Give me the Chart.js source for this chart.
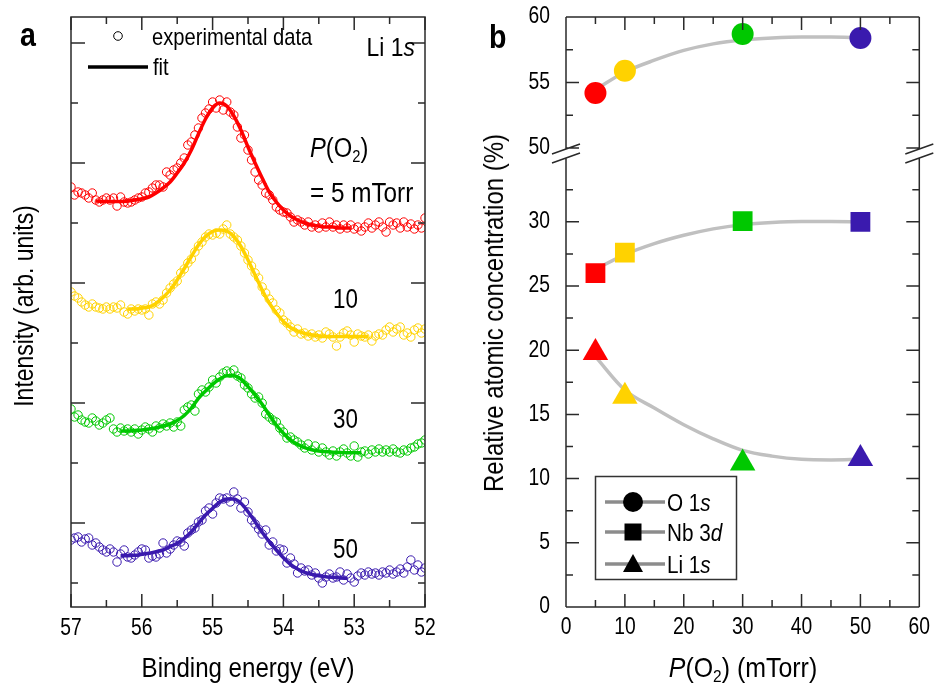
<!DOCTYPE html>
<html>
<head>
<meta charset="utf-8">
<script src="https://cdn.jsdelivr.net/npm/chart.js@4.4.1/dist/chart.umd.min.js"></script>
<style>
  body { margin: 0; background: #fff; width: 934px; height: 691px; overflow: hidden; position: relative;
         font-family: "Liberation Sans", Arial, sans-serif; color: #000; }
  canvas { position: absolute; top: 0; }
  #chartA { left: 0; }
  #chartB { left: 470px; }
  .lbl { position: absolute; white-space: nowrap; line-height: 1; transform-origin: left center; }
  .panel { font-weight: bold; font-size: 34px; transform: scaleX(0.84); }
  sub { font-size: 0.62em; vertical-align: -0.3em; line-height: 0; }
</style>
</head>
<body>
<canvas id="chartA" width="470" height="691"></canvas>
<canvas id="chartB" width="464" height="691"></canvas>

<div class="lbl panel" style="left:20px; top:17px;">a</div>
<div class="lbl panel" style="left:489px; top:19px;">b</div>

<div class="lbl" style="left:152px; top:25px; font-size:24px; transform:scaleX(0.84);">experimental data</div>
<div class="lbl" style="left:153px; top:55px; font-size:24px; transform:scaleX(0.84);">fit</div>
<div class="lbl" style="right:519px; top:34px; font-size:26px; transform:scaleX(0.88); transform-origin:right center;">Li 1<i>s</i></div>
<div class="lbl" style="left:310px; top:135px; font-size:27px; transform:scaleX(0.88);"><i>P</i>(O<sub>2</sub>)</div>
<div class="lbl" style="left:310px; top:180px; font-size:27px; transform:scaleX(0.9);">= 5 mTorr</div>
<div class="lbl" style="left:333px; top:285px; font-size:28px; transform:scaleX(0.8);">10</div>
<div class="lbl" style="left:333px; top:405px; font-size:28px; transform:scaleX(0.8);">30</div>
<div class="lbl" style="left:333px; top:535px; font-size:28px; transform:scaleX(0.8);">50</div>

<div class="lbl" style="left:24px; top:306px; font-size:27px; transform-origin:center; transform:translate(-50%,-50%) rotate(-90deg) scaleX(0.85);">Intensity (arb. units)</div>
<div class="lbl" style="left:248px; top:654px; font-size:28px; transform-origin:center; transform:translateX(-50%) scaleX(0.86);">Binding energy (eV)</div>
<div class="lbl" style="left:494px; top:313px; font-size:28px; transform-origin:center; transform:translate(-50%,-50%) rotate(-90deg) scaleX(0.855);">Relative atomic concentration (%)</div>
<div class="lbl" style="left:743px; top:654px; font-size:28px; transform-origin:center; transform:translateX(-50%) scaleX(0.89);"><i>P</i>(O<sub>2</sub>) (mTorr)</div>

<script>
const FONT = '"Liberation Sans", Arial, sans-serif';

// ---------- panel a: Li 1s spectra (offset, arb. units) ----------
const energy = [
  57, 56.95, 56.9, 56.85, 56.8, 56.75, 56.7, 56.65, 56.6, 56.55,
  56.5, 56.45, 56.4, 56.35, 56.3, 56.25, 56.2, 56.15, 56.1, 56.05,
  56, 55.95, 55.9, 55.85, 55.8, 55.75, 55.7, 55.65, 55.6, 55.55,
  55.5, 55.45, 55.4, 55.35, 55.3, 55.25, 55.2, 55.15, 55.1, 55.05,
  55, 54.95, 54.9, 54.85, 54.8, 54.75, 54.7, 54.65, 54.6, 54.55,
  54.5, 54.45, 54.4, 54.35, 54.3, 54.25, 54.2, 54.15, 54.1, 54.05,
  54, 53.95, 53.9, 53.85, 53.8, 53.75, 53.7, 53.65, 53.6, 53.55,
  53.5, 53.45, 53.4, 53.35, 53.3, 53.25, 53.2, 53.15, 53.1, 53.05,
  53, 52.95, 52.9, 52.85, 52.8, 52.75, 52.7, 52.65, 52.6, 52.55,
  52.5, 52.45, 52.4, 52.35, 52.3, 52.25, 52.2, 52.15, 52.1, 52.05,
  52
];

const int5 = [
  396, 388, 391, 390, 388, 385, 390, 383, 381, 383,
  385, 383, 385, 377, 386, 381, 380, 381, 383, 385,
  386, 390, 391, 395, 398, 398, 396, 411, 408, 413,
  415, 420, 425, 438, 441, 448, 455, 465, 470, 474,
  481, 475, 483, 473, 481, 471, 468, 456, 445, 448,
  433, 423, 411, 403, 398, 390, 388, 383, 376, 373,
  371, 370, 366, 361, 363, 361, 358, 361, 356, 358,
  355, 360, 356, 361, 356, 358, 354, 358, 355, 358,
  354, 356, 352, 356, 360, 355, 358, 361, 356, 351,
  361, 358, 360, 355, 361, 356, 359, 354, 358, 355,
  365
];
const int10 = [
  291, 287, 285, 281, 278, 276, 279, 276, 275, 274,
  276, 274, 276, 275, 278, 271, 269, 274, 272, 274,
  273, 274, 268, 279, 281, 279, 283, 290, 295, 299,
  302, 310, 314, 320, 324, 331, 337, 341, 346, 349,
  348, 350, 349, 354, 358, 349, 346, 343, 337, 330,
  323, 317, 310, 305, 296, 290, 284, 280, 273, 270,
  263, 260, 256, 251, 254, 249, 250, 247, 249, 246,
  248, 245, 251, 249, 246, 237, 246, 250, 252, 248,
  241, 249, 247, 246, 248, 242, 247, 249, 248, 253,
  256, 251, 254, 256, 248, 250, 246, 253, 255, 250,
  254
];
const int30 = [
  174, 166, 168, 163, 161, 160, 165, 162, 158, 160,
  163, 165, 154, 151, 155, 152, 154, 151, 154, 149,
  153, 156, 154, 151, 157, 155, 159, 157, 160, 156,
  161, 157, 173, 176, 178, 172, 189, 193, 191, 196,
  203, 200, 206, 210, 212, 210, 213, 207, 205, 198,
  195, 189, 185, 186, 180, 169, 166, 163, 161, 155,
  151, 145, 146, 143, 141, 138, 135, 139, 133, 137,
  131, 135, 131, 128, 132, 127, 131, 134, 130, 127,
  137, 126, 131, 132, 129, 133, 131, 134, 131, 133,
  131, 134, 131, 130, 133, 132, 135, 136, 139, 140,
  143
];
const int50 = [
  43, 45, 46, 41, 44, 45, 38, 40, 36, 33,
  31, 34, 31, 21, 29, 33, 26, 25, 28, 31,
  34, 33, 25, 27, 26, 29, 40, 30, 34, 38,
  42, 41, 37, 50, 53, 55, 61, 63, 72, 75,
  69, 80, 85, 84, 85, 81, 91, 84, 75, 81,
  71, 63, 59, 54, 49, 53, 38, 41, 32, 34,
  33, 20, 25, 19, 10, 15, 12, 13, 8, 10,
  5, 0, 6, 9, 5, 6, 11, 3, 9, 5,
  1, 7, 10, 8, 11, 9, 10, 8, 11, 10,
  13, 9, 11, 14, 10, 16, 23, 13, 18, 11,
  15
];

// fitted curves
const fitEnergy5 = [56.65, 56.5, 56.3, 56.1, 55.9, 55.8, 55.7, 55.6, 55.5, 55.4, 55.3, 55.2, 55.1, 55.0, 54.9,
  54.8, 54.7, 54.6, 54.5, 54.4, 54.3, 54.2, 54.1, 54.0, 53.9, 53.8, 53.7, 53.6, 53.5, 53.4, 53.3, 53.2, 53.05];
const fit5 = [382, 381.5, 381.5, 383, 386, 390, 395, 401, 410, 420, 433, 449, 464, 475, 480,
  477, 467, 453, 436, 420, 405, 391, 381, 373, 367, 363, 360, 358, 357, 356, 356, 355, 355];

const fitEnergy10 = [56.2, 56.1, 56.0, 55.9, 55.8, 55.7, 55.6, 55.5, 55.4, 55.3, 55.2, 55.1, 55.0, 54.9, 54.8,
  54.7, 54.6, 54.5, 54.4, 54.3, 54.2, 54.1, 54.0, 53.9, 53.8, 53.7, 53.6, 53.5, 53.4, 53.2, 53.0, 52.8];
const fit10 = [274, 274, 275, 276, 279.5, 285.5, 293, 303, 314.5, 326.5, 338, 346.5, 351.5, 353, 352,
  346.5, 336.5, 323, 308, 293, 280, 270, 261.5, 255.5, 252, 249.5, 248, 247, 246.5, 246.5, 246.5, 246.5];

const fitEnergy30 = [56.3, 56.2, 56.1, 56.0, 55.9, 55.8, 55.7, 55.6, 55.5, 55.4, 55.3, 55.2, 55.1, 55.0, 54.9,
  54.8, 54.7, 54.6, 54.5, 54.4, 54.3, 54.2, 54.1, 54.0, 53.9, 53.8, 53.7, 53.6, 53.5, 53.4, 53.3, 53.1, 52.9];
const fit30 = [152, 152, 152.5, 153, 154, 155.3, 157, 159, 162.5, 167.5, 175, 184.7, 192, 198.7, 204,
  207.3, 207.3, 204, 196.3, 188, 178.7, 168, 158, 149.7, 143, 138.7, 135.3, 133.3, 132, 131.3, 130.7, 130.3, 130.3];

const fitEnergy50 = [56.3, 56.2, 56.1, 56.0, 55.9, 55.8, 55.7, 55.6, 55.5, 55.4, 55.3, 55.2, 55.1, 55.0, 54.9,
  54.8, 54.7, 54.6, 54.5, 54.4, 54.3, 54.2, 54.1, 54.0, 53.9, 53.8, 53.7, 53.6, 53.5, 53.4, 53.3, 53.2, 53.1];
const fit50 = [27.3, 27.3, 27.7, 28.7, 29.7, 31.3, 33, 36.3, 39.7, 44.7, 51.3, 59.7, 68, 74.7, 80.7,
  84, 84, 79.7, 71.3, 61.3, 50.7, 41.3, 33, 25.3, 18.7, 14, 10.7, 8.7, 7.3, 6.3, 5.7, 5, 4.7];

const spectrumColors = ['#ff0000', '#ffd200', '#00c800', '#3a1aae'];

// ---------- panel b: relative atomic concentration ----------
const pressure = [5, 10, 30, 50];
const o1s = [54.2, 55.9, 58.7, 58.4];
const nb3d = [26.0, 27.6, 30.05, 30.0];
const li1s = [19.8, 16.4, 11.2, 11.55];
const pressureColors = ['#ff0000', '#ffd200', '#00c800', '#3a1aae'];

const fitPressure = [5, 10, 15, 20, 25, 30, 35, 40, 45, 50];
const o1sFit = [54.45, 55.8, 56.7, 57.45, 57.95, 58.25, 58.4, 58.47, 58.47, 58.42];
const nb3dFit = [26.3, 27.45, 28.3, 28.95, 29.45, 29.78, 29.95, 30.02, 30.02, 30.0];
const li1sFit = [19.5, 16.9, 15.5, 14.2, 13.1, 12.2, 11.75, 11.5, 11.45, 11.5];

function pts(xs, ys) {
  return xs.map((x, i) => ({ x: x, y: ys[i] }));
}

// condensed-looking tick label text
function narrowText(ctx, text, x, y, align, size, sx) {
  ctx.save();
  ctx.translate(x, y);
  ctx.scale(sx, 1);
  ctx.font = size + 'px ' + FONT;
  ctx.textAlign = align;
  ctx.textBaseline = 'middle';
  ctx.fillStyle = '#000';
  ctx.fillText(text, 0, 0);
  ctx.restore();
}

function noPad(s) {
  s.paddingLeft = 0; s.paddingRight = 0; s.paddingTop = 0; s.paddingBottom = 0;
}

// ticks drawn inward on all four sides
const frameA = {
  id: 'frameA',
  afterDatasetsDraw(chart) {
    const { ctx, chartArea: { left, right, top, bottom }, scales: { x, y } } = chart;
    ctx.save();
    ctx.strokeStyle = '#2a2a2a';
    ctx.lineWidth = 1.5;
    ctx.strokeRect(left, top, right - left, bottom - top);
    ctx.beginPath();
    for (let k = 0; k <= 10; k++) {
      const px = x.getPixelForValue(52 + k * 0.5);
      const len = k % 2 === 0 ? 13 : 7;
      ctx.moveTo(px, bottom); ctx.lineTo(px, bottom - len);
      ctx.moveTo(px, top); ctx.lineTo(px, top + len);
    }
    for (let k = 0; k <= 9; k++) {
      const py = y.getPixelForValue(k * 60);
      const len = k % 2 === 1 ? 14 : 7;
      ctx.moveTo(left, py); ctx.lineTo(left + len, py);
      ctx.moveTo(right, py); ctx.lineTo(right - len, py);
    }
    ctx.stroke();

    x.ticks.forEach(t => narrowText(ctx, t.label, x.getPixelForValue(t.value), 629, 'center', 23.5, 0.82));

    // legend symbols
    ctx.strokeStyle = '#000';
    ctx.lineWidth = 1;
    ctx.beginPath();
    ctx.arc(118, 36, 4.3, 0, Math.PI * 2);
    ctx.stroke();
    ctx.lineWidth = 3.5;
    ctx.beginPath();
    ctx.moveTo(88, 67); ctx.lineTo(148, 67);
    ctx.stroke();
    ctx.restore();
  }
};

const frameB = {
  id: 'frameB',
  afterDatasetsDraw(chart) {
    const { ctx, chartArea: { left, right, top, bottom }, scales: { x, yLow, yHigh } } = chart;
    const brk = yLow.top;
    ctx.save();
    ctx.strokeStyle = '#2a2a2a';
    ctx.lineWidth = 1.5;
    ctx.beginPath();
    ctx.moveTo(left, top); ctx.lineTo(right, top);
    ctx.moveTo(left, bottom); ctx.lineTo(right, bottom);
    [left, right].forEach(sx => {
      ctx.moveTo(sx, top); ctx.lineTo(sx, brk - 4.5);
      ctx.moveTo(sx, brk + 4.5); ctx.lineTo(sx, bottom);
      // break marks
      ctx.moveTo(sx - 14, brk + 0.5); ctx.lineTo(sx + 14, brk - 9.5);
      ctx.moveTo(sx - 14, brk + 9.5); ctx.lineTo(sx + 14, brk - 0.5);
    });
    for (let k = 0; k <= 12; k++) {
      const px = x.getPixelForValue(k * 5);
      const len = k % 2 === 0 ? 13 : 7;
      ctx.moveTo(px, bottom); ctx.lineTo(px, bottom - len);
      ctx.moveTo(px, top); ctx.lineTo(px, top + len);
    }
    const yTicks = [];
    for (let k = 0; k <= 13; k++) yTicks.push([yLow, k * 2.5, k % 2 === 0]);
    for (let k = 0; k <= 4; k++) yTicks.push([yHigh, 50 + k * 2.5, k % 2 === 0]);
    yTicks.forEach(([s, v, major]) => {
      const py = s.getPixelForValue(v);
      const len = major ? 13 : 7;
      ctx.moveTo(left, py); ctx.lineTo(left + len, py);
      ctx.moveTo(right, py); ctx.lineTo(right - len, py);
    });
    ctx.stroke();

    x.ticks.forEach(t => narrowText(ctx, t.label, x.getPixelForValue(t.value), 628, 'center', 23.5, 0.82));
    [yLow, yHigh].forEach(s => {
      s.ticks.forEach(t => {
        if (t.label === null || t.label === undefined || t.label === '') return;
        narrowText(ctx, t.label, left - 16, s.getPixelForValue(t.value), 'right', 23.5, 0.82);
      });
    });
    ctx.restore();
  },
  afterDraw(chart) {
    const ctx = chart.ctx;
    ctx.save();
    ctx.fillStyle = '#fff';
    ctx.fillRect(125, 476, 142, 104);
    ctx.strokeStyle = '#333';
    ctx.lineWidth = 1.5;
    ctx.strokeRect(125.5, 476.5, 141, 103);
    const rows = [
      { y: 502, shape: 'circle', name: 'O 1', it: 's' },
      { y: 532, shape: 'rect', name: 'Nb 3', it: 'd' },
      { y: 564, shape: 'triangle', name: 'Li 1', it: 's' }
    ];
    rows.forEach(r => {
      ctx.strokeStyle = '#8c8c8c';
      ctx.lineWidth = 3.5;
      ctx.beginPath();
      ctx.moveTo(135, r.y); ctx.lineTo(195, r.y);
      ctx.stroke();
      ctx.fillStyle = '#000';
      ctx.beginPath();
      if (r.shape === 'circle') ctx.arc(163, r.y, 10, 0, Math.PI * 2);
      else if (r.shape === 'rect') ctx.rect(154.5, r.y - 8.5, 17, 17);
      else { ctx.moveTo(163, r.y - 10); ctx.lineTo(173, r.y + 8); ctx.lineTo(153, r.y + 8); ctx.closePath(); }
      ctx.fill();
      ctx.save();
      ctx.translate(197, r.y + 8.5);
      ctx.scale(0.9, 1);
      ctx.font = '23px ' + FONT;
      ctx.textBaseline = 'alphabetic';
      ctx.fillText(r.name, 0, 0);
      const w = ctx.measureText(r.name).width;
      ctx.font = 'italic 23px ' + FONT;
      ctx.fillText(r.it, w, 0);
      ctx.restore();
    });
    ctx.restore();
  }
};

const spectra = [int5, int10, int30, int50];
const fitsE = [fitEnergy5, fitEnergy10, fitEnergy30, fitEnergy50];
const fits = [fit5, fit10, fit30, fit50];
const datasetsA = [];
fits.forEach((f, i) => {
  datasetsA.push({
    data: pts(fitsE[i], f),
    showLine: true,
    borderColor: spectrumColors[i],
    borderWidth: 3.5,
    pointRadius: 0,
    cubicInterpolationMode: 'monotone',
    order: 0
  });
});
spectra.forEach((s, i) => {
  datasetsA.push({
    data: pts(energy, s),
    showLine: false,
    pointStyle: 'circle',
    pointRadius: 4.2,
    borderWidth: 1,
    borderColor: spectrumColors[i],
    backgroundColor: 'rgba(0,0,0,0)',
    order: 1
  });
});

new Chart(document.getElementById('chartA'), {
  type: 'scatter',
  data: { datasets: datasetsA },
  options: {
    responsive: false,
    animation: false,
    events: [],
    layout: { padding: { left: 71, right: 45, top: 17, bottom: 0 } },
    plugins: { legend: { display: false }, tooltip: { enabled: false } },
    scales: {
      x: {
        type: 'linear', min: 52, max: 57, reverse: true,
        grid: { display: false, drawTicks: false },
        border: { display: false },
        ticks: { stepSize: 1, display: false },
        afterFit(s) { s.height = 84; noPad(s); }
      },
      y: { type: 'linear', display: false, min: -24, max: 566 }
    }
  },
  plugins: [frameA]
});

const lineStyle = { showLine: true, borderColor: '#c0c0c0', borderWidth: 3.5, pointRadius: 0,
  cubicInterpolationMode: 'monotone', order: 2 };
const markStyle = { showLine: false, borderWidth: 0, pointBackgroundColor: pressureColors,
  pointBorderColor: pressureColors, order: 1 };

new Chart(document.getElementById('chartB'), {
  type: 'scatter',
  data: {
    datasets: [
      Object.assign({ data: pts(fitPressure, o1sFit), yAxisID: 'yHigh' }, lineStyle),
      Object.assign({ data: pts(fitPressure, nb3dFit), yAxisID: 'yLow' }, lineStyle),
      Object.assign({ data: pts(fitPressure, li1sFit), yAxisID: 'yLow' }, lineStyle),
      Object.assign({ data: pts(pressure, o1s), yAxisID: 'yHigh', pointStyle: 'circle', pointRadius: 11 }, markStyle),
      Object.assign({ data: pts(pressure, nb3d), yAxisID: 'yLow', pointStyle: 'rect', pointRadius: 14 }, markStyle),
      Object.assign({ data: pts(pressure, li1s), yAxisID: 'yLow', pointStyle: 'triangle', pointRadius: 14.7 }, markStyle)
    ]
  },
  options: {
    responsive: false,
    animation: false,
    events: [],
    layout: { padding: { left: 0, right: 13, top: 17, bottom: 0 } },
    plugins: { legend: { display: false }, tooltip: { enabled: false } },
    scales: {
      x: {
        type: 'linear', min: 0, max: 60,
        grid: { display: false, drawTicks: false },
        border: { display: false },
        ticks: { stepSize: 10, display: false },
        afterFit(s) { s.height = 84; noPad(s); }
      },
      yLow: {
        type: 'linear', position: 'left', stack: 'conc', stackWeight: 453.5,
        min: 0, max: 35.32,
        grid: { display: false, drawTicks: false },
        border: { display: false },
        ticks: { stepSize: 5, includeBounds: false, display: false,
          callback: v => (v <= 30 ? String(v) : null) },
        afterFit(s) { s.width = 96; noPad(s); }
      },
      yHigh: {
        type: 'linear', position: 'left', stack: 'conc', stackWeight: 136.5,
        min: 49.58, max: 60,
        grid: { display: false, drawTicks: false },
        border: { display: false },
        ticks: { stepSize: 5, includeBounds: false, display: false },
        afterFit(s) { s.width = 96; noPad(s); }
      }
    }
  },
  plugins: [frameB]
});
</script>
</body>
</html>
